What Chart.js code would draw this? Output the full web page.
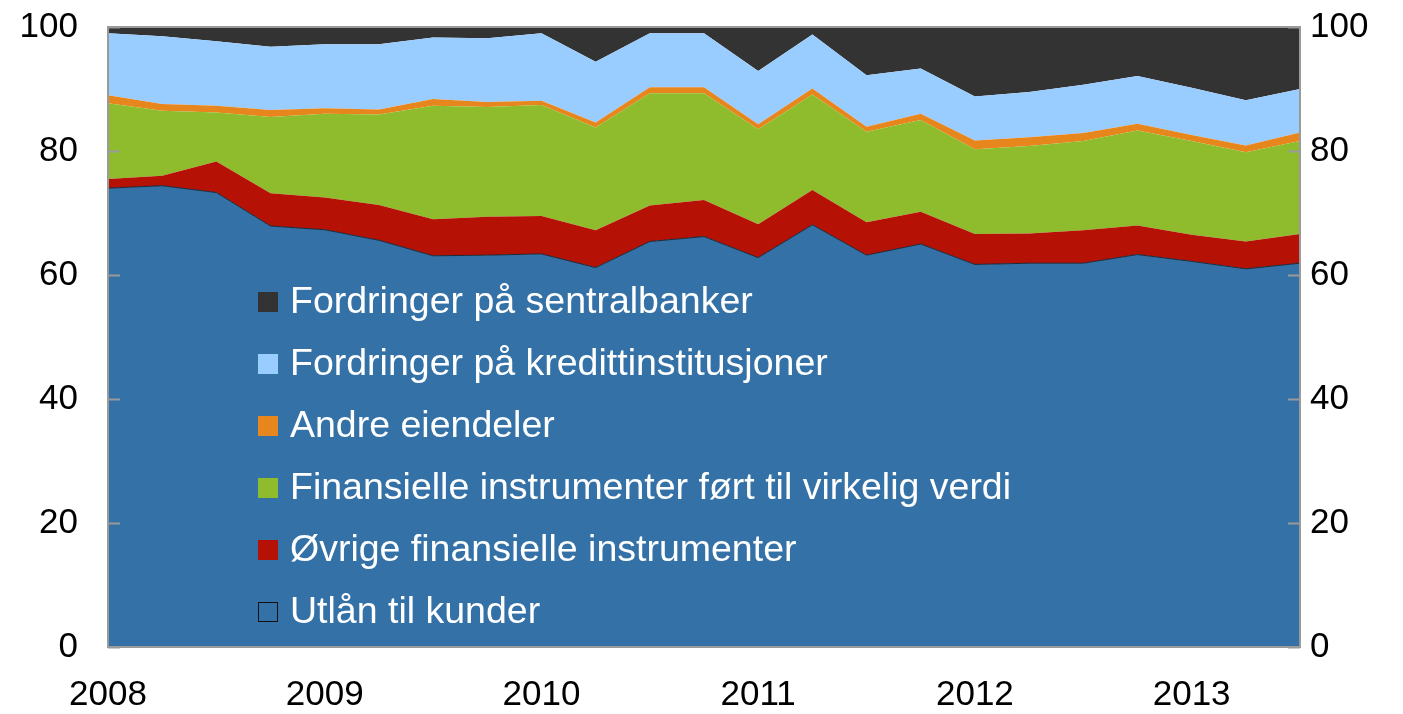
<!DOCTYPE html>
<html>
<head>
<meta charset="utf-8">
<script src="https://cdn.jsdelivr.net/npm/chart.js@4/dist/chart.umd.min.js"></script>
<style>
  html, body { margin: 0; padding: 0; background: #fff; }
  #wrap { width: 1403px; height: 714px; }
</style>
</head>
<body>
<div id="wrap"><canvas id="chart" width="1403" height="714"></canvas></div>
<script>
// kvartaler 2008 K1 - 2013 K3
const quarters = ['2008K1','2008K2','2008K3','2008K4','2009K1','2009K2','2009K3','2009K4',
  '2010K1','2010K2','2010K3','2010K4','2011K1','2011K2','2011K3','2011K4',
  '2012K1','2012K2','2012K3','2012K4','2013K1','2013K2','2013K3'];
const yTicks = [0, 20, 40, 60, 80, 100];

const utlan = [74.0, 74.4, 73.3, 67.9, 67.3, 65.6, 63.1, 63.2, 63.4, 61.2, 65.4, 66.2, 62.8, 68.1, 63.2, 65.0, 61.7, 61.9, 61.9, 63.3, 62.2, 61.0, 61.9];
const ovrige = [1.5, 1.6, 5.0, 5.3, 5.2, 5.7, 5.9, 6.2, 6.1, 6.0, 5.8, 5.9, 5.4, 5.6, 5.3, 5.2, 4.9, 4.8, 5.3, 4.7, 4.3, 4.4, 4.7];
const finansielle = [12.2, 10.5, 7.9, 12.3, 13.5, 14.6, 18.3, 17.7, 17.9, 16.6, 18.1, 17.2, 15.3, 15.4, 14.6, 14.8, 13.7, 14.1, 14.4, 15.3, 15.1, 14.4, 15.0];
const andre = [1.3, 1.1, 1.1, 1.1, 0.9, 0.8, 1.1, 0.8, 0.7, 0.8, 1.0, 1.0, 0.8, 1.0, 0.8, 1.0, 1.4, 1.4, 1.3, 1.1, 1.0, 1.1, 1.4];
const kreditt = [10.0, 10.9, 10.4, 10.2, 10.3, 10.5, 9.9, 10.3, 10.9, 9.8, 8.7, 8.7, 8.6, 8.7, 8.3, 7.3, 7.1, 7.3, 7.8, 7.7, 7.6, 7.3, 7.0];
const sentral = [1.0, 1.5, 2.3, 3.2, 2.8, 2.8, 1.7, 1.8, 1.0, 5.6, 1.0, 1.0, 7.1, 1.2, 7.8, 6.7, 11.2, 10.5, 9.3, 7.9, 9.8, 11.8, 10.0];

const tickFont = { family: '"Liberation Sans", Arial, sans-serif', size: 35 };

function area(label, data, color, fill, border) {
  return {
    label: label,
    data: data,
    backgroundColor: color,
    borderColor: border || color,
    borderWidth: border ? 1 : 0,
    fill: fill,
    pointRadius: 0,
    tension: 0
  };
}

function fitY(width) {
  return s => { s.width = width; s.paddingTop = 0; s.paddingBottom = 0; };
}

// rammen, innvendige tick-streker og legenden
const decor = {
  id: 'decor',
  afterDatasetsDraw(chart) {
    const ctx = chart.ctx;
    const a = chart.chartArea;
    const yl = chart.scales.y;
    ctx.save();
    ctx.strokeStyle = '#9a9a9a';
    ctx.lineWidth = 2;
    ctx.strokeRect(a.left, a.top, a.right - a.left, a.bottom - a.top);
    yTicks.forEach(v => {
      const py = Math.round(yl.getPixelForValue(v)) + 0.5;
      ctx.beginPath();
      ctx.moveTo(a.left, py); ctx.lineTo(a.left + 12, py);
      ctx.moveTo(a.right - 12, py); ctx.lineTo(a.right, py);
      ctx.stroke();
    });

    // legenden
    const items = chart.data.datasets.slice().reverse();
    ctx.font = '37.5px "Liberation Sans", Arial, sans-serif';
    ctx.textBaseline = 'middle';
    items.forEach((ds, i) => {
      const cy = a.top + 275 + i * 62;
      const bx = a.left + 150;
      ctx.fillStyle = ds.backgroundColor;
      ctx.fillRect(bx, cy - 10, 20, 20);
      if (ds.label === 'Utlån til kunder') {
        ctx.strokeStyle = '#111';
        ctx.lineWidth = 1;
        ctx.strokeRect(bx + 0.5, cy - 9.5, 19, 19);
      }
      ctx.fillStyle = '#ffffff';
      ctx.fillText(ds.label, bx + 32, cy + 1);
    });
    ctx.restore();
  }
};

new Chart(document.getElementById('chart').getContext('2d'), {
  type: 'line',
  data: {
    labels: quarters,
    datasets: [
      area('Utlån til kunder', utlan, '#3471a6', 'origin', '#1a2a3a'),
      area('Øvrige finansielle instrumenter', ovrige, '#b51105', '-1'),
      area('Finansielle instrumenter ført til virkelig verdi', finansielle, '#8fbc2c', '-1'),
      area('Andre eiendeler', andre, '#e8861e', '-1'),
      area('Fordringer på kredittinstitusjoner', kreditt, '#99ccff', '-1'),
      area('Fordringer på sentralbanker', sentral, '#333333', '-1')
    ]
  },
  options: {
    responsive: false,
    animation: false,
    layout: { padding: { top: 27, left: 0, right: 0, bottom: 0 } },
    plugins: { legend: { display: false }, tooltip: { enabled: false } },
    scales: {
      x: {
        offset: false,
        grid: { display: false, drawTicks: false },
        border: { display: false },
        ticks: {
          autoSkip: false, maxRotation: 0, padding: 27,
          color: '#000', font: tickFont,
          callback: (v, i) => (i % 4 === 0 ? quarters[i].slice(0, 4) : '')
        },
        afterFit: s => { s.height = 67; s.paddingLeft = 0; s.paddingRight = 0; }
      },
      y: {
        stacked: true, min: 0, max: 100, position: 'left',
        grid: { display: false, drawTicks: false },
        border: { display: false },
        ticks: { stepSize: 20, padding: 30, color: '#000', font: tickFont },
        afterFit: fitY(108)
      },
      y2: {
        min: 0, max: 100, position: 'right',
        grid: { display: false, drawTicks: false },
        border: { display: false },
        ticks: { stepSize: 20, padding: 10, color: '#000', font: tickFont },
        afterFit: fitY(103)
      }
    }
  },
  plugins: [decor]
});
</script>
</body>
</html>
